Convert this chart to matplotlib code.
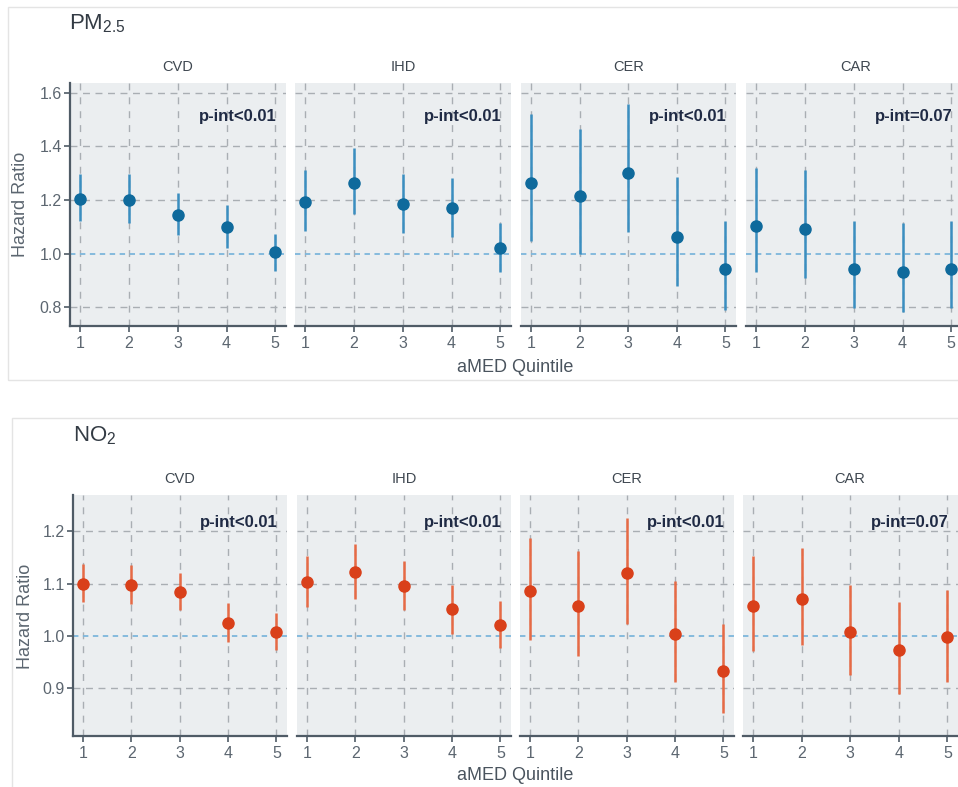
import matplotlib
matplotlib.use("Agg")
import matplotlib.pyplot as plt
from matplotlib.patches import Rectangle

plt.rcParams['font.family'] = ['Liberation Sans', 'DejaVu Sans']
plt.rcParams['mathtext.fontset'] = 'custom'
plt.rcParams['mathtext.rm'] = 'Liberation Sans'
plt.rcParams['mathtext.it'] = 'Liberation Sans:italic'

# ---------------- data ----------------
quintiles = [1, 2, 3, 4, 5]
outcomes = ["CVD", "IHD", "CER", "CAR"]

pm_pint = ["p-int<0.01", "p-int<0.01", "p-int<0.01", "p-int=0.07"]
no2_pint = ["p-int<0.01", "p-int<0.01", "p-int<0.01", "p-int=0.07"]

pm_cvd_hr = [1.204, 1.200, 1.146, 1.100, 1.005]
pm_cvd_lo = [1.122, 1.115, 1.070, 1.022, 0.937]
pm_cvd_hi = [1.296, 1.296, 1.226, 1.180, 1.074]

pm_ihd_hr = [1.194, 1.263, 1.185, 1.170, 1.022]
pm_ihd_lo = [1.085, 1.148, 1.078, 1.063, 0.933]
pm_ihd_hi = [1.311, 1.393, 1.296, 1.281, 1.115]

pm_cer_hr = [1.263, 1.215, 1.300, 1.063, 0.941]
pm_cer_lo = [1.048, 1.000, 1.081, 0.878, 0.789]
pm_cer_hi = [1.522, 1.467, 1.559, 1.285, 1.122]

pm_car_hr = [1.104, 1.093, 0.944, 0.933, 0.944]
pm_car_lo = [0.930, 0.911, 0.796, 0.781, 0.796]
pm_car_hi = [1.319, 1.311, 1.122, 1.115, 1.122]

no2_cvd_hr = [1.100, 1.097, 1.084, 1.025, 1.008]
no2_cvd_lo = [1.065, 1.061, 1.050, 0.989, 0.973]
no2_cvd_hi = [1.137, 1.135, 1.120, 1.063, 1.044]

no2_ihd_hr = [1.103, 1.122, 1.095, 1.051, 1.021]
no2_ihd_lo = [1.055, 1.070, 1.050, 1.004, 0.977]
no2_ihd_hi = [1.152, 1.175, 1.143, 1.097, 1.067]

no2_cer_hr = [1.086, 1.057, 1.120, 1.004, 0.933]
no2_cer_lo = [0.992, 0.962, 1.023, 0.912, 0.853]
no2_cer_hi = [1.187, 1.162, 1.225, 1.105, 1.023]

no2_car_hr = [1.057, 1.070, 1.008, 0.973, 0.998]
no2_car_lo = [0.971, 0.983, 0.926, 0.889, 0.912]
no2_car_hi = [1.152, 1.168, 1.097, 1.065, 1.088]

pm_yticks = [0.8, 1.0, 1.2, 1.4, 1.6]
no2_yticks = [0.9, 1.0, 1.1, 1.2]

pm_series = [(pm_cvd_hr, pm_cvd_lo, pm_cvd_hi), (pm_ihd_hr, pm_ihd_lo, pm_ihd_hi),
             (pm_cer_hr, pm_cer_lo, pm_cer_hi), (pm_car_hr, pm_car_lo, pm_car_hi)]
no2_series = [(no2_cvd_hr, no2_cvd_lo, no2_cvd_hi), (no2_ihd_hr, no2_ihd_lo, no2_ihd_hi),
              (no2_cer_hr, no2_cer_lo, no2_cer_hi), (no2_car_hr, no2_car_lo, no2_car_hi)]

# ---------------- layout ----------------
W, H = 958, 787
fig = plt.figure(figsize=(W / 100, H / 100), dpi=100)
fig.patch.set_facecolor('white')

def px_axes(x0, y0, x1, y1):
    return fig.add_axes([x0 / W, 1 - y1 / H, (x1 - x0) / W, (y1 - y0) / H])

def fx(x):
    return x / W

def fy(y):
    return 1 - y / H

# outer frames
fig.patches.append(Rectangle((fx(8), fy(380)), fx(960) - fx(8), fy(7) - fy(380),
                             transform=fig.transFigure, fill=False,
                             edgecolor='#E4E4E4', lw=1.0))
fig.patches.append(Rectangle((fx(12), fy(800)), fx(960) - fx(12), fy(418) - fy(800),
                             transform=fig.transFigure, fill=False,
                             edgecolor='#E4E4E4', lw=1.0))

BG = '#EBEEF0'
GRID = '#A9AEB3'
AXC = '#4F5B66'
TICKC = '#5C6670'
TXT = '#3E4750'
PINT = '#1F2A44'


def draw_block(series, pints, xs, y0, y1, ylim, yticks, ytickfmt, pt_col, bar_col, ptext_y):
    for i, ((hr, lo, hi), (x0, x1)) in enumerate(zip(series, xs)):
        ax = px_axes(x0, y0, x1, y1)
        ax.set_facecolor(BG)
        ax.set_xlim(0.79, 5.22)
        ax.set_ylim(*ylim)
        ax.set_xticks(quintiles)
        ax.set_xticklabels([str(q) for q in quintiles])
        ax.set_yticks(yticks)
        for t in yticks:
            if abs(t - 1.0) > 1e-9:
                ax.axhline(t, color=GRID, lw=1.0, ls=(0, (5, 4)), zorder=1)
        for q in quintiles:
            ax.axvline(q, color=GRID, lw=1.0, ls=(0, (5, 5)), zorder=1)
        ax.axhline(1.0, color='#7DB6DC', lw=1.3, ls=(0, (3, 2.5)), zorder=1.5)
        for sp in ['top', 'right']:
            ax.spines[sp].set_visible(False)
        ax.spines['bottom'].set_color(AXC)
        ax.spines['bottom'].set_linewidth(1.6)
        if i == 0:
            ax.spines['left'].set_color(AXC)
            ax.spines['left'].set_linewidth(1.6)
            ax.set_yticklabels([ytickfmt.format(t) for t in yticks])
            ax.tick_params(axis='y', length=4, width=1.2, color=AXC, labelsize=11.5,
                           labelcolor=TICKC, pad=2)
        else:
            ax.spines['left'].set_visible(False)
            ax.tick_params(axis='y', length=0, labelleft=False)
        ax.tick_params(axis='x', length=4, width=1.2, color=AXC, labelsize=11.5,
                       labelcolor=TICKC, pad=3)
        ax.vlines(quintiles, lo, hi, color=bar_col, lw=1.8, zorder=3)
        ax.plot(quintiles, hr, 'o', color=pt_col, ms=8, mec=pt_col, zorder=4)
        ax.text(5.03, ptext_y, pints[i], ha='right', va='center', fontsize=12,
                fontweight='bold', color=PINT, zorder=5)
        ax.set_axisbelow(True)
        for lbl in ax.get_xticklabels() + ax.get_yticklabels():
            lbl.set_fontfamily(['Liberation Sans', 'DejaVu Sans'])


# ---- top block: PM2.5 ----
top_xs = [(70, 286), (295, 511), (521, 736), (746, 962)]
draw_block(pm_series, pm_pint, top_xs, 83, 326, (0.73, 1.637), pm_yticks, '{:.1f}',
           '#0F6A9C', '#3A8EC0', 1.511)
fig.text(fx(69), fy(24), r'PM$_{\mathrm{2.5}}$', fontsize=16, color='#333B44',
         ha='left', va='center')
for name, (x0, x1) in zip(outcomes, top_xs):
    xc = (x0 + min(x1, 958 + 4)) / 2 if name != 'CAR' else (x0 + 958 + 4) / 2 - 4
    fig.text(fx((x0 + x1) / 2 if name != 'CAR' else 856), fy(67), name, fontsize=10.5,
             color=TXT, ha='center', va='center')
fig.text(fx(21), fy(204), 'Hazard Ratio', rotation=90, fontsize=13, color='#5C6670',
         ha='center', va='center')
fig.text(fx(515), fy(367), 'aMED Quintile', fontsize=13, color='#4A545E',
         ha='center', va='center')

# ---- bottom block: NO2 ----
bot_xs = [(73, 287), (297, 511), (520, 734), (743, 958)]
draw_block(no2_series, no2_pint, bot_xs, 495, 736, (0.809, 1.269), no2_yticks, '{:.1f}',
           '#D9401A', '#E66A45', 1.217)
fig.text(fx(73), fy(436), r'NO$_{\mathrm{2}}$', fontsize=16, color='#333B44',
         ha='left', va='center')
for name, (x0, x1) in zip(outcomes, bot_xs):
    fig.text(fx((x0 + x1) / 2 if name != 'CAR' else 850), fy(479), name, fontsize=10.5,
             color=TXT, ha='center', va='center')
fig.text(fx(26), fy(616), 'Hazard Ratio', rotation=90, fontsize=13, color='#5C6670',
         ha='center', va='center')
fig.text(fx(515), fy(775), 'aMED Quintile', fontsize=13, color='#4A545E',
         ha='center', va='center')

fig.savefig('out.png', dpi=100, facecolor='white')
